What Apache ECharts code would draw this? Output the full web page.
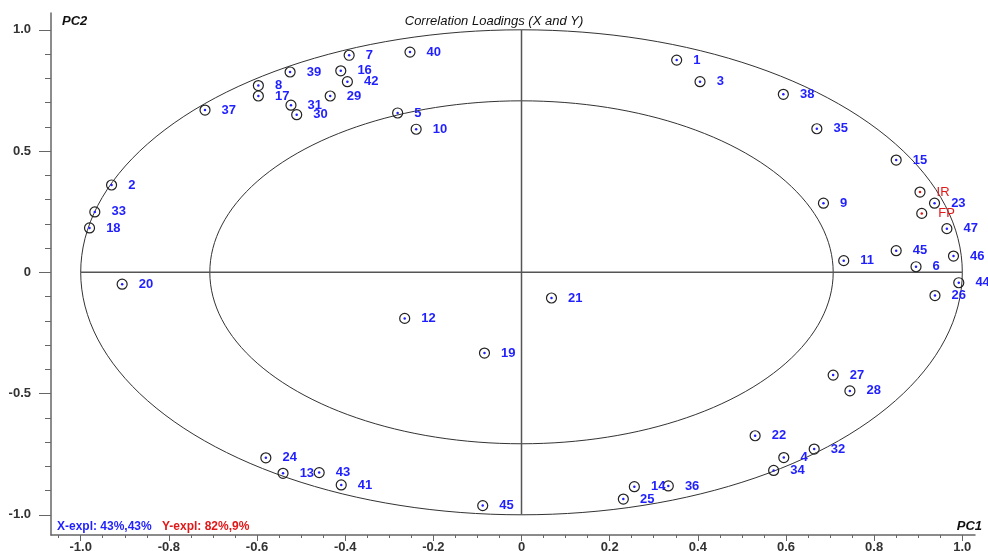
<!DOCTYPE html>
<html>
<head>
<meta charset="utf-8">
<script src="https://cdn.jsdelivr.net/npm/echarts@6/dist/echarts.min.js"></script>
<style>
  html, body { margin: 0; padding: 0; background: #ffffff; }
  #chart { width: 988px; height: 551px; }
</style>
</head>
<body>
<div id="chart"></div>
<script>
// X-variable correlation loadings on PC1 / PC2
const xNames = ['1', '2', '3', '4', '5', '6', '7', '8', '9', '10',
                '11', '12', '13', '14', '15', '16', '17', '18', '19', '20',
                '21', '22', '23', '24', '25', '26', '27', '28', '29', '30',
                '31', '32', '33', '34', '35', '36', '37', '38', '39', '40',
                '41', '42', '43', '44', '45', '45', '46', '47'];
const xPC1 = [0.352, -0.930, 0.405, 0.595, -0.281, 0.895, -0.391, -0.597, 0.685, -0.239,
              0.731, -0.265, -0.541, 0.256, 0.850, -0.410, -0.597, -0.980, -0.084, -0.906,
              0.068, 0.530, 0.937, -0.580, 0.231, 0.938, 0.707, 0.745, -0.434, -0.510,
              -0.523, 0.664, -0.968, 0.572, 0.670, 0.333, -0.718, 0.594, -0.525, -0.253,
              -0.409, -0.395, -0.459, 0.992, 0.850, -0.088, 0.980, 0.965];
const xPC2 = [0.875, 0.360, 0.786, -0.764, 0.657, 0.023, 0.895, 0.770, 0.285, 0.590,
              0.048, -0.190, -0.829, -0.884, 0.463, 0.831, 0.727, 0.183, -0.333, -0.049,
              -0.106, -0.674, 0.285, -0.765, -0.935, -0.096, -0.424, -0.489, 0.727, 0.650,
              0.689, -0.729, 0.249, -0.817, 0.592, -0.881, 0.669, 0.734, 0.826, 0.908,
              -0.877, 0.786, -0.826, -0.043, 0.089, -0.962, 0.067, 0.180];

// Y-variable correlation loadings
const yNames = ['IR', 'FP'];
const yPC1 = [0.904, 0.908];
const yPC2 = [0.331, 0.243];

// Correlation circles: 100 % and 50 % explained variance
const circleRadii = [1.0, 0.7071];

// Axis ticks
const xMajorTicks = [-1.0, -0.8, -0.6, -0.4, -0.2, 0, 0.2, 0.4, 0.6, 0.8, 1.0];
const xMinorTicks = [-1.05, -0.95, -0.9, -0.85, -0.75, -0.7, -0.65, -0.55, -0.5, -0.45,
                     -0.35, -0.3, -0.25, -0.15, -0.1, -0.05, 0.05, 0.1, 0.15, 0.25,
                     0.3, 0.35, 0.45, 0.5, 0.55, 0.65, 0.7, 0.75, 0.85, 0.9, 0.95];
const yMajorTicks = [-1.0, -0.5, 0, 0.5, 1.0];
const yMinorTicks = [-0.9, -0.8, -0.7, -0.6, -0.4, -0.3, -0.2, -0.1,
                     0.1, 0.2, 0.3, 0.4, 0.6, 0.7, 0.8, 0.9];

const FONT = '"Liberation Sans", Arial, sans-serif';
const BLUE = '#1f1fff';
const RED = '#e01818';

const xPoints = xNames.map((n, i) => [xPC1[i], xPC2[i], n]);
const yPoints = yNames.map((n, i) => [yPC1[i], yPC2[i], n]);

const tickLabel = v => (Math.abs(v) < 1e-9 ? '0' : Number(v).toFixed(1));

const X_MIN = -1.0674, X_MAX = 1.0288;
const Y_MIN = -1.0833, Y_MAX = 1.0693;

function baseX(extra) {
  return Object.assign({
    type: 'value', min: X_MIN, max: X_MAX, position: 'bottom',
    splitLine: { show: false }
  }, extra);
}
function baseY(extra) {
  return Object.assign({
    type: 'value', min: Y_MIN, max: Y_MAX, position: 'left',
    splitLine: { show: false }
  }, extra);
}

// Reference geometry: the two correlation circles and the cross through the origin
function renderGuides(params, api) {
  const children = [];
  circleRadii.forEach(r => {
    const pts = [];
    for (let k = 0; k <= 360; k += 2) {
      const a = k * Math.PI / 180;
      pts.push(api.coord([r * Math.cos(a), r * Math.sin(a)]));
    }
    children.push({
      type: 'polyline', shape: { points: pts },
      style: { stroke: '#333333', lineWidth: 1, fill: null }
    });
  });
  const seg = (p, q) => {
    const a = api.coord(p), b = api.coord(q);
    return {
      type: 'line', shape: { x1: a[0], y1: a[1], x2: b[0], y2: b[1] },
      style: { stroke: '#555555', lineWidth: 1.5 }
    };
  };
  children.push(seg([-1, 0], [1, 0]));
  children.push(seg([0, -1], [0, 1]));
  return { type: 'group', children };
}

function ringSeries(data, labelColor, labelWeight) {
  return {
    type: 'scatter', data, xAxisIndex: 0, yAxisIndex: 0,
    symbol: 'circle', symbolSize: 10,
    itemStyle: { color: 'rgba(255,255,255,0)', borderColor: '#222222', borderWidth: 1.2, opacity: 1 },
    label: {
      show: true, position: 'right', distance: 11,
      formatter: p => p.data[2],
      color: labelColor, opacity: 1, fontFamily: FONT, fontSize: 13, fontWeight: labelWeight,
      textBorderWidth: 0
    },
    emphasis: { disabled: true }, silent: true, z: 3
  };
}
function dotSeries(data, color) {
  return {
    type: 'scatter', data, xAxisIndex: 0, yAxisIndex: 0,
    symbol: 'circle', symbolSize: 2.5,
    itemStyle: { color, opacity: 1 },
    emphasis: { disabled: true }, silent: true, z: 4
  };
}

const chart = echarts.init(document.getElementById('chart'), null, { renderer: 'canvas' });
chart.setOption({
  animation: false,
  backgroundColor: '#ffffff',
  grid: { left: 51, right: 13, top: 13, bottom: 16, containLabel: false, outerBoundsMode: 'none' },
  xAxis: [
    baseX({
      axisLine: { show: true, onZero: false, lineStyle: { color: '#666666', width: 1.5 } },
      axisTick: { show: true, customValues: xMajorTicks, length: 6, lineStyle: { color: '#666666' } },
      axisLabel: {
        show: true, customValues: xMajorTicks, formatter: tickLabel, margin: 6,
        color: '#333333', fontFamily: FONT, fontSize: 13, fontWeight: 'bold'
      }
    }),
    baseX({
      axisLine: { show: false, onZero: false },
      axisTick: { show: true, customValues: xMinorTicks, length: 3, lineStyle: { color: '#666666' } },
      axisLabel: { show: false }
    })
  ],
  yAxis: [
    baseY({
      axisLine: { show: true, onZero: false, lineStyle: { color: '#666666', width: 1.5 } },
      axisTick: { show: true, customValues: yMajorTicks, length: 12, lineStyle: { color: '#666666' } },
      axisLabel: {
        show: true, customValues: yMajorTicks, formatter: tickLabel, margin: 20,
        color: '#333333', fontFamily: FONT, fontSize: 13, fontWeight: 'bold'
      }
    }),
    baseY({
      axisLine: { show: false, onZero: false },
      axisTick: { show: true, customValues: yMinorTicks, length: 6, lineStyle: { color: '#666666' } },
      axisLabel: { show: false }
    })
  ],
  series: [
    {
      type: 'custom', xAxisIndex: 0, yAxisIndex: 0,
      data: [[0, 0]], renderItem: renderGuides, silent: true, z: 1
    },
    ringSeries(xPoints, BLUE, 'bold'),
    dotSeries(xPoints, BLUE),
    ringSeries(yPoints, RED, 'normal'),
    dotSeries(yPoints, RED)
  ],
  graphic: [
    {
      type: 'text', left: 'center', top: 15, z: 10,
      style: { text: 'Correlation Loadings (X and Y)', font: 'italic 13px ' + FONT, fill: '#111111' }
    },
    {
      type: 'text', left: 62, top: 15, z: 10,
      style: { text: 'PC2', font: 'italic bold 13px ' + FONT, fill: '#111111' }
    },
    {
      type: 'text', right: 6, top: 520, z: 10,
      style: { text: 'PC1', font: 'italic bold 13px ' + FONT, fill: '#111111' }
    },
    {
      type: 'text', left: 57, top: 521, z: 10,
      style: { text: 'X-expl: 43%,43%', font: 'bold 12px ' + FONT, fill: BLUE }
    },
    {
      type: 'text', left: 162, top: 521, z: 10,
      style: { text: 'Y-expl: 82%,9%', font: 'bold 12px ' + FONT, fill: RED }
    }
  ]
});
</script>
</body>
</html>
